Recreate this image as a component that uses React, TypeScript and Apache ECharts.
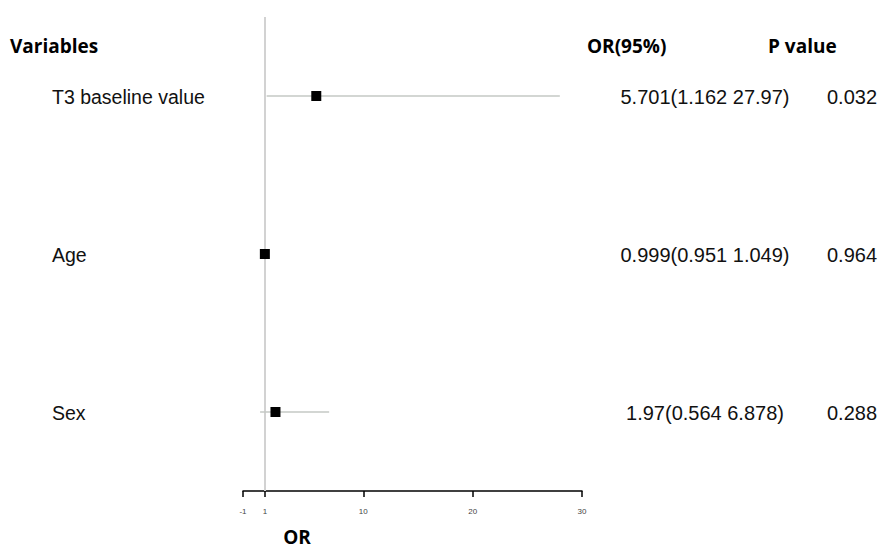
import React, { useEffect, useRef } from "react";
import * as echarts from "echarts";

const variables = ["T3 baseline value", "Age", "Sex"];
const orValues = [5.701, 0.999, 1.97];
const lowerCI = [1.162, 0.951, 0.564];
const upperCI = [27.97, 1.049, 6.878];
const orLabels = ["5.701(1.162 27.97)", "0.999(0.951 1.049)", "1.97(0.564 6.878)"];
const pValues = ["0.032", "0.964", "0.288"];
const rowPositions = [2.5, 1.5, 0.5];
const xTicks = [-1, 1, 10, 20, 30];
const refValue = 1;

const bodyFont = "'Liberation Sans', Arial, sans-serif";
const headFont = "'Open Sans', 'Noto Sans', sans-serif";

export default function App() {
  const ref = useRef<HTMLDivElement>(null);
  useEffect(() => {
    if (!ref.current) return;
    const chart = echarts.init(ref.current, null, { renderer: "svg" });
    const ciData = variables.map((v, i) => [lowerCI[i], upperCI[i], rowPositions[i], i]);
    const head = (text: string, x: number, y: number, align: string) => ({
      type: "text",
      x,
      y,
      style: { text, font: `bold 19px ${headFont}`, fill: "#000", textAlign: align, textVerticalAlign: "middle", align, verticalAlign: "middle" },
    });
    const option: any = {
      animation: false,
      backgroundColor: "#ffffff",
      grid: { left: 243, right: 301, top: 17, bottom: 59 },
      xAxis: {
        type: "value",
        min: -1,
        max: 30,
        splitLine: { show: false },
        axisLine: { show: true, onZero: false, lineStyle: { color: "#000", width: 1.5 } },
        axisTick: { show: true, length: 6, customValues: xTicks, lineStyle: { color: "#000", width: 1.5 } },
        axisLabel: { customValues: xTicks, fontSize: 8, color: "#444", margin: 16, fontFamily: bodyFont },
      },
      yAxis: { type: "value", min: 0, max: 3, show: false },
      graphic: [
        head("Variables", 10, 46, "left"),
        head("OR(95%)", 587, 46, "left"),
        head("P value", 768, 46, "left"),
        head("OR", 297, 537, "center"),
      ],
      series: [
        {
          type: "custom",
          clip: false,
          z: 2,
          data: ciData,
          renderItem: (params: any, api: any) => {
            const idx = api.value(3);
            const y = api.value(2);
            const p1 = api.coord([api.value(0), y]);
            const p2 = api.coord([api.value(1), y]);
            const ty = p1[1] + 1;
            return {
              type: "group",
              children: [
                { type: "line", shape: { x1: p1[0], y1: p1[1], x2: p2[0], y2: p2[1] }, style: { stroke: "#c4c8c4", lineWidth: 1.5 } },
                { type: "text", x: 52, y: ty, style: { text: variables[idx], font: `19.5px ${bodyFont}`, fill: "#111", textAlign: "left", textVerticalAlign: "middle", align: "left", verticalAlign: "middle" } },
                { type: "text", x: 705, y: ty, style: { text: orLabels[idx], font: `20px ${bodyFont}`, fill: "#111", textAlign: "center", textVerticalAlign: "middle", align: "center", verticalAlign: "middle" } },
                { type: "text", x: 827, y: ty, style: { text: pValues[idx], font: `20px ${bodyFont}`, fill: "#111", textAlign: "left", textVerticalAlign: "middle", align: "left", verticalAlign: "middle" } },
              ],
            };
          },
        },
        {
          type: "scatter",
          z: 3,
          symbol: "rect",
          symbolSize: 10,
          itemStyle: { color: "#000", opacity: 1 },
          data: orValues.map((v, i) => [v, rowPositions[i]]),
          markLine: {
            silent: true,
            symbol: "none",
            label: { show: false },
            lineStyle: { color: "#d2d2d2", width: 2, type: "solid" },
            data: [{ xAxis: refValue }],
            z: 1,
          },
        },
      ],
    };
    chart.setOption(option);
    return () => chart.dispose();
  }, []);
  return <div ref={ref} style={{ position: "fixed", left: 0, top: 0, width: 883, height: 550 }} />;
}
